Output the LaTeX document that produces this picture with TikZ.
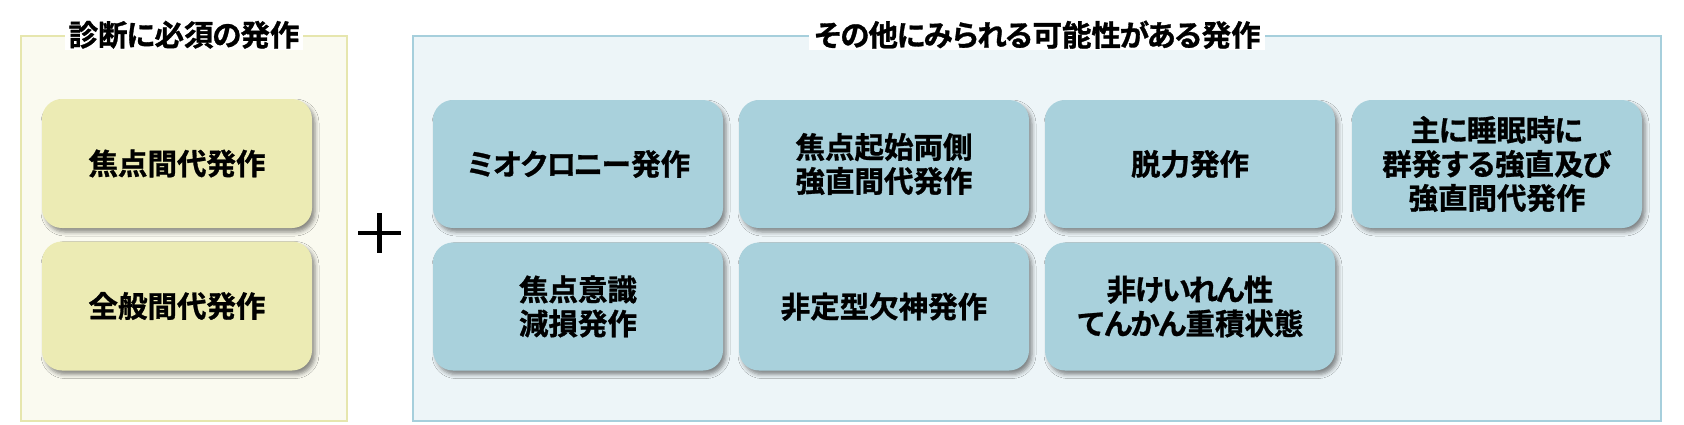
\documentclass[tikz,border=0pt]{standalone}
\usepackage{fontspec}
\setmainfont{Noto Sans CJK JP}
\font\jpcard="Noto Sans CJK JP Bold:embolden=1" at 29.5pt
\font\jptitle="Noto Sans CJK JP Bold:embolden=1" at 29.5pt
\XeTeXinterchartokenstate=1
\newXeTeXintercharclass\kanaclass
\newcount\kanacnt
\kanacnt="3041
\loop
  \XeTeXcharclass\kanacnt=\kanaclass
  \advance\kanacnt by 1
\ifnum\kanacnt<"30FC \repeat
\XeTeXinterchartoks 0 \kanaclass = {\kern-1.3pt}
\XeTeXinterchartoks \kanaclass 0 = {\kern-1.3pt}
\XeTeXinterchartoks 1 \kanaclass = {\kern-1.3pt}
\XeTeXinterchartoks \kanaclass 1 = {\kern-1.3pt}
\XeTeXinterchartoks \kanaclass \kanaclass = {\kern-2.6pt}
\usetikzlibrary{shadows.blur}
\definecolor{lpfill}{HTML}{FAFAF0}
\definecolor{lpline}{HTML}{E6E6AE}
\definecolor{lbfill}{HTML}{ECEBB4}
\definecolor{rpfill}{HTML}{EDF5F8}
\definecolor{rpline}{HTML}{A6CFDC}
\definecolor{rbfill}{HTML}{A9D1DC}
\begin{document}
\begin{tikzpicture}[x=1pt,y=-1pt,
  panel/.style={draw, line width=2.5pt, inner sep=0pt},
  ptitle/.style={fill=white, inner xsep=4pt, inner ysep=1pt, font=\fontsize{29.5}{34}\selectfont\jptitle},
  cardbase/.style={rounded corners=20pt, align=center, inner sep=0pt,
    font=\fontsize{29.5}{34}\selectfont\jpcard,
    blur shadow={shadow xshift=3pt, shadow yshift=-4pt, shadow blur radius=4pt, shadow opacity=45}},
  lcard/.style={cardbase, fill=lbfill, minimum width=270pt, minimum height=129pt},
  rcard/.style={cardbase, fill=rbfill, minimum width=290pt, minimum height=128pt},
  plusbar/.style={line width=4.5pt}
]
\useasboundingbox (0,0) rectangle (1684,424);
% panels
\node[panel, draw=lpline, fill=lpfill, minimum width=326pt, minimum height=385pt] (lp) at (184,228.5) {};
\node[panel, draw=rpline, fill=rpfill, minimum width=1248pt, minimum height=385pt] (rp) at (1037,228.5) {};
\node[ptitle] (lt) at (lp.north) {診断に必須の発作};
\node[ptitle] (rt) at (rp.north) {その他にみられる可能性がある発作};
% left cards
\node[lcard] (l1) at (177,163.5) {焦点間代発作};
\node[lcard] (l2) at (177,306) {全般間代発作};
% plus
\coordinate (pc) at (379.5,233);
\draw[plusbar] ([xshift=-21.5pt]pc) -- ([xshift=21.5pt]pc);
\draw[plusbar] ([yshift=20pt]pc) -- ([yshift=-20pt]pc);
% right cards
\node[rcard] (r1) at (578,164) {ミオクロニー発作};
\node[rcard] (r2) at (884,164) {焦点起始両側\\強直間代発作};
\node[rcard] (r3) at (1190,164) {脱力発作};
\node[rcard] (r4) at (1497,164) {主に睡眠時に\\群発する強直及び\\強直間代発作};
\node[rcard] (r5) at (578,306.5) {焦点意識\\減損発作};
\node[rcard] (r6) at (884,306.5) {非定型欠神発作};
\node[rcard] (r7) at (1190,306.5) {非けいれん性\\てんかん重積状態};
\end{tikzpicture}
\end{document}
